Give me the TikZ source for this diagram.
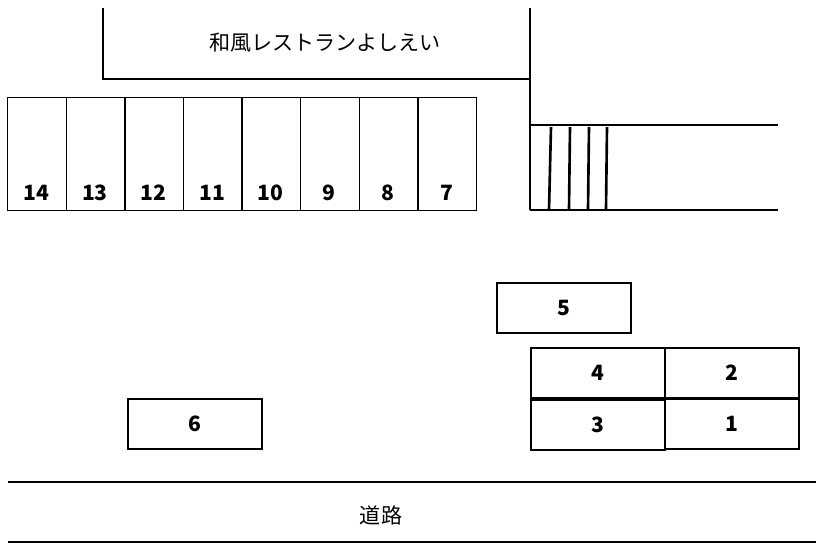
\documentclass[tikz,border=0pt]{standalone}
\usepackage{fontspec}
\setmainfont{Noto Sans CJK JP}
\begin{document}
\begin{tikzpicture}[x=0.02cm,y=-0.02cm,
            wall/.style={line width=1.5pt},
            lot/.style={draw,line width=0.8pt,minimum width=2.68cm,minimum height=1cm,
                        inner sep=0pt,font=\large\bfseries},
            semithick]

        \useasboundingbox (0,0) rectangle (822,547);

        % restaurant
        \coordinate (rtl) at (103,8);
        \coordinate (rbl) at (103,79);
        \coordinate (rbr) at (530,79);
        \coordinate (rtr) at (530,8);
        \coordinate (rbot) at (530,210);
        \draw[wall] (rtl) -- (rbl) -- (rbr);
        \draw[wall] (rtr) -- (rbot);
        \node (rest) at (325,43) {\large 和風レストランよしえい};

        % stairs
        \coordinate (s1) at (530,125);
        \coordinate (s2) at (778,125);
        \coordinate (s3) at (530,210);
        \coordinate (s4) at (778,210);
        \draw[wall] (s1) -- (s2);
        \draw[wall] (s3) -- (s4);
        \foreach \xa/\xb in {551/549,570/569,589/588,607/606}
            \draw[wall] (\xa,127) -- (\xb,210);

        % parking row
        \foreach \n [count=\i from 0] in {14,13,12,11,10,9,8,7} {
            \node[draw,line width=0.8pt,minimum width=1.172cm,minimum height=2.26cm,
                  anchor=north west,inner sep=0pt] (p\n) at (7+58.6*\i,97) {};
            \node[font=\large\bfseries] (l\n) at (36.3+58.6*\i,193) {\n};
        }

        % single lots
        \node[lot] (p5) at (564,308) {5};
        \node[lot] (p4) at (598,373) {4};
        \node[lot] (p2) at (732,373) {2};
        \node[lot] (p3) at (598,425) {3};
        \node[lot] (p1) at (732,424) {1};
        \node[lot] (p6) at (195,424) {6};

        % road
        \coordinate (r1) at (8,482);
        \coordinate (r2) at (816,482);
        \coordinate (r3) at (8,542);
        \coordinate (r4) at (816,542);
        \draw[wall] (r1) -- (r2);
        \draw[wall] (r3) -- (r4);
        \node (road) at (381,515) {\large 道路};

    \end{tikzpicture}
\end{document}
